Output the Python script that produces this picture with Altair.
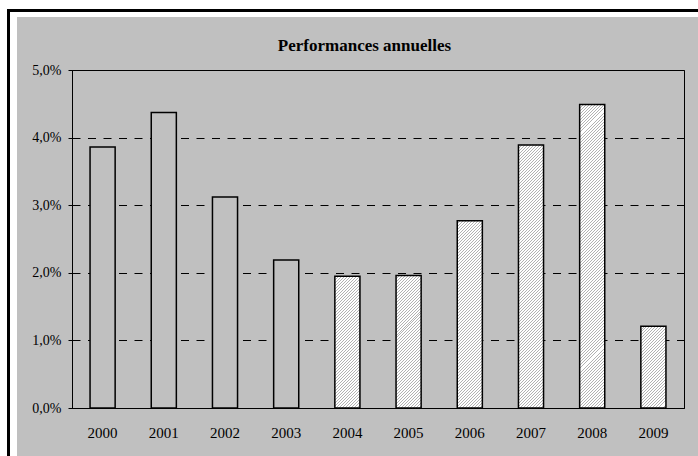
import altair as alt
import pandas as pd

# ---- data ----
years = ["2000", "2001", "2002", "2003", "2004", "2005", "2006", "2007", "2008", "2009"]
values_pct = [3.86, 4.37, 3.12, 2.19, 1.95, 1.96, 2.77, 3.89, 4.49, 1.21]
styles = ["plain", "plain", "plain", "plain", "hatched", "hatched", "hatched", "hatched", "hatched", "hatched"]
y_ticks_pct = [0, 1, 2, 3, 4, 5]
title_text = "Performances annuelles"

df = pd.DataFrame({
    "year": years,
    "value": [v / 100 for v in values_pct],
    "style": styles,
})

GREY = "#c0c0c0"
HATCH_LINE = "#b2b2b2"
FONT = "Liberation Serif"

PLOT_W, PLOT_H = 612, 338
Y_MAX = 0.05
PAD_IN, PAD_OUT = 0.59, 0.295

base = alt.Chart(df).encode(
    x=alt.X(
        "year:O",
        sort=years,
        scale=alt.Scale(paddingInner=PAD_IN, paddingOuter=PAD_OUT),
        axis=alt.Axis(
            title=None, labelAngle=0, ticks=False, tickSize=0, labelPadding=17,
            labelFont=FONT, labelFontSize=15, labelColor="black",
            domainColor="black", domainWidth=1, grid=False,
        ),
    ),
    y=alt.Y(
        "value:Q",
        scale=alt.Scale(domain=[0, Y_MAX], nice=False, zero=True),
        axis=alt.Axis(
            title=None,
            values=[t / 100 for t in y_ticks_pct],
            labelExpr="replace(format(datum.value, '.1%'), '.', ',')",
            labelFont=FONT, labelFontSize=14, labelColor="black",
            tickSize=4, tickColor="black", labelPadding=7,
            domainColor="black", domainWidth=1,
            grid=True, gridColor="black", gridDash=[8, 7.5], gridWidth=1,
        ),
    ),
)

plain = base.transform_filter(alt.datum.style == "plain").mark_bar(
    fill=GREY, stroke="black", strokeWidth=1.5
)

# diagonal hatch pattern ("/") built as a hard-stop linear gradient per bar
step = PLOT_W / (len(years) - PAD_IN + 2 * PAD_OUT)
bar_w = step * (1 - PAD_IN)
PERIOD = 3.0  # pixels along x + y


def hatch_fill(h):
    w = bar_w
    k = (w + h) / (w * w + h * h)
    n = max(1, int(round((w + h) / PERIOD)))
    stops = []
    for j in range(n):
        a = j / n
        b = (j + 0.33) / n
        c = (j + 1) / n
        stops += [
            {"offset": a, "color": HATCH_LINE},
            {"offset": b, "color": HATCH_LINE},
            {"offset": b, "color": "white"},
            {"offset": c, "color": "white"},
        ]
    return {"gradient": "linear", "x1": 0, "y1": 0, "x2": k * w, "y2": k * h, "stops": stops}


hatched_layers = []
for yr, v, st in zip(years, values_pct, styles):
    if st != "hatched":
        continue
    h = (v / 100) / Y_MAX * PLOT_H
    hatched_layers.append(
        base.transform_filter(alt.datum.year == yr).mark_bar(
            fill=hatch_fill(h), stroke="black", strokeWidth=1.5
        )
    )

one = alt.Data(values=[{}])


def rect(x, x2, y, y2, color):
    return alt.Chart(one).mark_rect(fill=color, strokeWidth=0).encode(
        x=alt.value(x), x2=alt.value(x2), y=alt.value(y), y2=alt.value(y2)
    )


# white page margins and black frame line (outside the plot area)
deco = [
    rect(-72, -55, -70, 386, "white"),
    rect(-72, 626, -70, -53, "white"),
    rect(-65, -62, -61, 386, "black"),
    rect(-65, 626, -61, -58, "black"),
]

title = alt.Chart(one).mark_text(
    text=title_text, font=FONT, fontSize=17, fontWeight="bold",
    align="center", baseline="alphabetic", color="black",
).encode(x=alt.value(292.5), y=alt.value(-19))

chart = alt.layer(*deco, plain, *hatched_layers, title).properties(
    width=PLOT_W,
    height=PLOT_H,
    padding={"left": 72, "top": 70, "right": 14, "bottom": 48},
    autosize=alt.AutoSizeParams(type="none"),
    background=GREY,
).configure_view(
    fill=GREY, stroke="black", strokeWidth=1,
)

chart.save("out.html", embed_options={"renderer": "svg", "actions": False})
